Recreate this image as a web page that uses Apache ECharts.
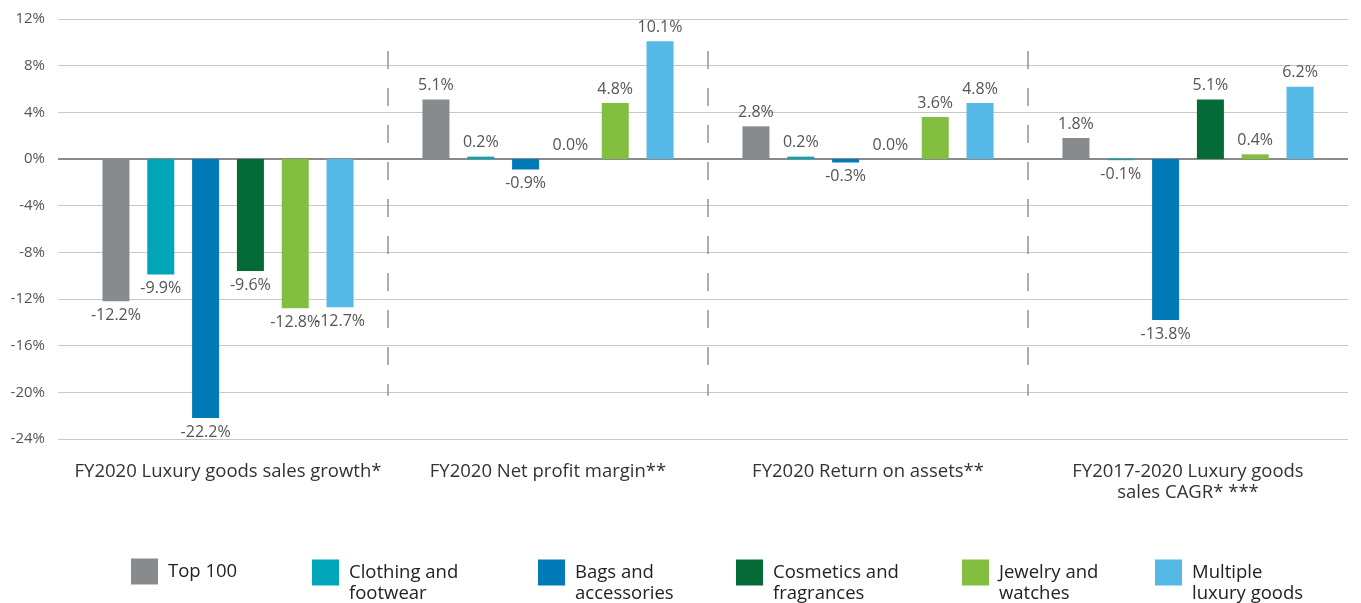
<!DOCTYPE html>
<html>
<head>
<meta charset="utf-8">
<script src="https://cdn.jsdelivr.net/npm/echarts@6/dist/echarts.min.js"></script>
<style>
html,body{margin:0;padding:0;background:#fff;}
#chart{width:1361px;height:603px;}
</style>
</head>
<body>
<div id="chart"></div>
<script>
var categories = ['FY2020 Luxury goods sales growth*', 'FY2020 Net profit margin**', 'FY2020 Return on assets**', 'FY2017-2020 Luxury goods\nsales CAGR* ***'];
var seriesNames = ['Top 100', 'Clothing and\nfootwear', 'Bags and\naccessories', 'Cosmetics and\nfragrances', 'Jewelry and\nwatches', 'Multiple\nluxury goods'];
var top100 = [-12.2, 5.1, 2.8, 1.8];
var clothing = [-9.9, 0.2, 0.2, -0.1];
var bags = [-22.2, -0.9, -0.3, -13.8];
var cosmetics = [-9.6, 0.0, 0.0, 5.1];
var jewelry = [-12.8, 4.8, 3.6, 0.4];
var multiple = [-12.7, 10.1, 4.8, 6.2];
var yTicks = [-24, -20, -16, -12, -8, -4, 0, 4, 8, 12];
var separators = [1, 2, 3];

var colors = ['#888B8E', '#00A6B8', '#007BB8', '#046A38', '#82BF41', '#55B9E8'];
var allValues = [top100, clothing, bags, cosmetics, jewelry, multiple];
var FONT = '"Open Sans", "Noto Sans", sans-serif';

var series = allValues.map(function (vals, i) {
  return {
    name: seriesNames[i],
    type: 'bar',
    barWidth: 27,
    barGap: '66%',
    z: 10,
    itemStyle: {color: colors[i]},
    data: vals.map(function (v) {
      return {
        value: v,
        label: {position: v < 0 ? 'bottom' : 'top'}
      };
    }),
    label: {
      show: true,
      distance: 6,
      fontFamily: FONT,
      fontSize: 16,
      color: '#555',
      formatter: function (p) { return p.value.toFixed(1) + '%'; }
    }
  };
});

// overlay grid extends 10px left of the plot (gridlines start left of first category)
var leftExt = -10 / 320;
var gridLines = yTicks.map(function (t) {
  var isZero = t === 0;
  return [
    {coord: [leftExt, t], lineStyle: {color: isZero ? '#8a8a8a' : '#c8c8c8', width: isZero ? 2 : 1, type: 'solid'}},
    {coord: [4, t]}
  ];
});
var sepLines = separators.map(function (s) {
  return [
    {coord: [s, 9.25], lineStyle: {color: '#999', width: 1.6, type: [18, 19]}},
    {coord: [s, -20.3]}
  ];
});

series.unshift({
  type: 'scatter',
  xAxisIndex: 1,
  yAxisIndex: 1,
  data: [],
  silent: true,
  z: 1,
  markLine: {
    z: 1,
    silent: true,
    symbol: ['none', 'none'],
    label: {show: false},
    animation: false,
    data: gridLines.concat(sepLines)
  }
});

var legendLefts = [131, 312, 538, 736, 962, 1155];
var legends = seriesNames.map(function (n, i) {
  var twoLine = n.indexOf('\n') >= 0;
  return {
    data: [n],
    left: legendLefts[i],
    top: twoLine ? 539.5 : 558,
    padding: 0,
    itemWidth: 27,
    itemHeight: 26,
    icon: 'rect',
    selectedMode: false,
    formatter: function (name) { return name.indexOf('\n') >= 0 ? '\n' + name : name; },
    textStyle: {
      fontFamily: FONT,
      fontSize: 18.5,
      lineHeight: 21,
      color: '#222',
      padding: twoLine ? [3, 0, 0, 5] : [6, 0, 0, 5]
    }
  };
});

var chart = echarts.init(document.getElementById('chart'));
chart.setOption({
  animation: false,
  color: colors,
  grid: [
    {left: 68, right: 13, top: 19, bottom: 164},
    {left: 58, right: 13, top: 19, bottom: 164}
  ],
  legend: legends,
  xAxis: [{
    type: 'category',
    gridIndex: 0,
    data: categories,
    axisLine: {show: false, onZero: false},
    axisTick: {show: false},
    axisLabel: {
      margin: 22,
      fontFamily: FONT,
      fontSize: 18.5,
      lineHeight: 21,
      color: '#333',
      interval: 0
    }
  }, {
    type: 'value',
    gridIndex: 1,
    min: leftExt,
    max: 4,
    show: false
  }],
  yAxis: [{
    type: 'value',
    gridIndex: 0,
    min: -24,
    max: 12,
    interval: 4,
    axisLine: {show: false},
    axisTick: {show: false},
    axisLabel: {
      formatter: '{value}%',
      margin: 23,
      fontFamily: FONT,
      fontSize: 15,
      color: '#555'
    },
    splitLine: {show: false}
  }, {
    type: 'value',
    gridIndex: 1,
    min: -24,
    max: 12,
    interval: 4,
    show: false,
    splitLine: {show: false}
  }],
  series: series
});
</script>
</body>
</html>
